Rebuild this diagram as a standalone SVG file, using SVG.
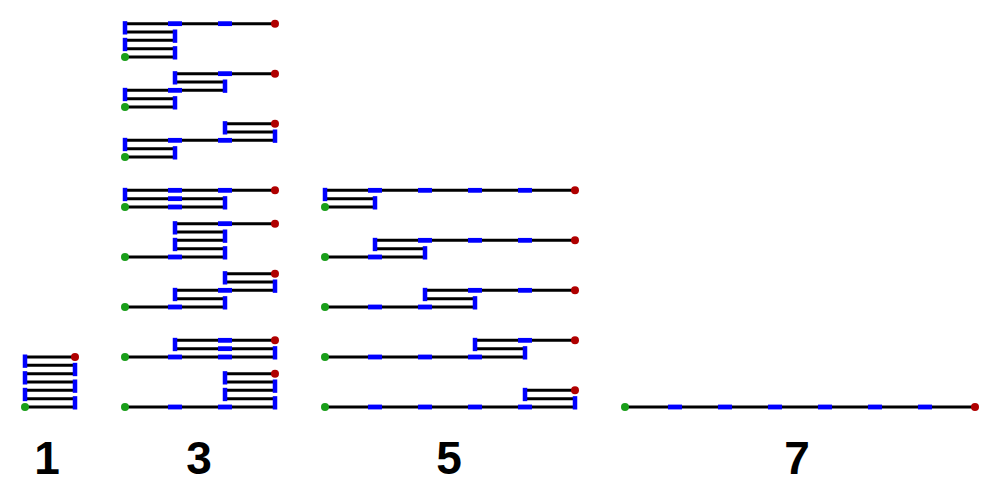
<svg xmlns="http://www.w3.org/2000/svg" xmlns:xlink="http://www.w3.org/1999/xlink" width="1000" height="486" viewBox="0 0 1000 486">
<style>
.ln{fill:none;stroke:#000;stroke-width:3;stroke-linejoin:miter}
.lbl{font-family:"Liberation Sans",Arial,sans-serif;font-weight:bold;font-size:46px;text-anchor:middle;fill:#000}
</style>
<defs>
<rect id="fold" x="-2.25" y="-2.5" width="4.5" height="13.33" fill="#0000ff"/>
<rect id="dash" x="-7" y="-2.4" width="14" height="4.8" fill="#0000ff"/>
<circle id="start" r="4" fill="#1a9e1a"/>
<circle id="end" r="4" fill="#b00000"/>
</defs>
<rect width="1000" height="486" fill="#fff"/>

<g id="fig1">
<path class="ln" d="M25 407 H75 V398.67 H25 V390.33 H75 V382 H25 V373.67 H75 V365.33 H25 V357 H75"/>
<use xlink:href="#fold" x="75" y="398.67"/><use xlink:href="#fold" x="25" y="390.33"/><use xlink:href="#fold" x="75" y="382"/><use xlink:href="#fold" x="25" y="373.67"/><use xlink:href="#fold" x="75" y="365.33"/><use xlink:href="#fold" x="25" y="357"/>
<use xlink:href="#start" x="25" y="407"/><use xlink:href="#end" x="75" y="357"/>
</g>

<g id="fig3a">
<path class="ln" d="M125 57 H175 V48.67 H125 V40.33 H175 V32 H125 V23.67 H275"/>
<use xlink:href="#fold" x="175" y="48.67"/><use xlink:href="#fold" x="125" y="40.33"/><use xlink:href="#fold" x="175" y="32"/><use xlink:href="#fold" x="125" y="23.67"/>
<use xlink:href="#dash" x="175" y="23.67"/><use xlink:href="#dash" x="225" y="23.67"/>
<use xlink:href="#start" x="125" y="57"/><use xlink:href="#end" x="275" y="23.67"/>
</g>

<g id="fig3b">
<path class="ln" d="M125 107 H175 V98.67 H125 V90.33 H225 V82 H175 V73.67 H275"/>
<use xlink:href="#fold" x="175" y="98.67"/><use xlink:href="#fold" x="125" y="90.33"/><use xlink:href="#fold" x="225" y="82"/><use xlink:href="#fold" x="175" y="73.67"/>
<use xlink:href="#dash" x="175" y="90.33"/><use xlink:href="#dash" x="225" y="73.67"/>
<use xlink:href="#start" x="125" y="107"/><use xlink:href="#end" x="275" y="73.67"/>
</g>

<g id="fig3c">
<path class="ln" d="M125 157 H175 V148.67 H125 V140.33 H275 V132 H225 V123.67 H275"/>
<use xlink:href="#fold" x="175" y="148.67"/><use xlink:href="#fold" x="125" y="140.33"/><use xlink:href="#fold" x="275" y="132"/><use xlink:href="#fold" x="225" y="123.67"/>
<use xlink:href="#dash" x="175" y="140.33"/><use xlink:href="#dash" x="225" y="140.33"/>
<use xlink:href="#start" x="125" y="157"/><use xlink:href="#end" x="275" y="123.67"/>
</g>

<g id="fig3d">
<path class="ln" d="M125 207 H225 V198.67 H125 V190.33 H275"/>
<use xlink:href="#fold" x="225" y="198.67"/><use xlink:href="#fold" x="125" y="190.33"/>
<use xlink:href="#dash" x="175" y="207"/><use xlink:href="#dash" x="175" y="198.67"/><use xlink:href="#dash" x="175" y="190.33"/><use xlink:href="#dash" x="225" y="190.33"/>
<use xlink:href="#start" x="125" y="207"/><use xlink:href="#end" x="275" y="190.33"/>
</g>

<g id="fig3e">
<path class="ln" d="M125 257 H225 V248.67 H175 V240.33 H225 V232 H175 V223.67 H275"/>
<use xlink:href="#fold" x="225" y="248.67"/><use xlink:href="#fold" x="175" y="240.33"/><use xlink:href="#fold" x="225" y="232"/><use xlink:href="#fold" x="175" y="223.67"/>
<use xlink:href="#dash" x="175" y="257"/><use xlink:href="#dash" x="225" y="223.67"/>
<use xlink:href="#start" x="125" y="257"/><use xlink:href="#end" x="275" y="223.67"/>
</g>

<g id="fig3f">
<path class="ln" d="M125 307 H225 V298.67 H175 V290.33 H275 V282 H225 V273.67 H275"/>
<use xlink:href="#fold" x="225" y="298.67"/><use xlink:href="#fold" x="175" y="290.33"/><use xlink:href="#fold" x="275" y="282"/><use xlink:href="#fold" x="225" y="273.67"/>
<use xlink:href="#dash" x="175" y="307"/><use xlink:href="#dash" x="225" y="290.33"/>
<use xlink:href="#start" x="125" y="307"/><use xlink:href="#end" x="275" y="273.67"/>
</g>

<g id="fig3g">
<path class="ln" d="M125 357 H275 V348.67 H175 V340.33 H275"/>
<use xlink:href="#fold" x="275" y="348.67"/><use xlink:href="#fold" x="175" y="340.33"/>
<use xlink:href="#dash" x="175" y="357"/><use xlink:href="#dash" x="225" y="357"/><use xlink:href="#dash" x="225" y="348.67"/><use xlink:href="#dash" x="225" y="340.33"/>
<use xlink:href="#start" x="125" y="357"/><use xlink:href="#end" x="275" y="340.33"/>
</g>

<g id="fig3h">
<path class="ln" d="M125 407 H275 V398.67 H225 V390.33 H275 V382 H225 V373.67 H275"/>
<use xlink:href="#fold" x="275" y="398.67"/><use xlink:href="#fold" x="225" y="390.33"/><use xlink:href="#fold" x="275" y="382"/><use xlink:href="#fold" x="225" y="373.67"/>
<use xlink:href="#dash" x="175" y="407"/><use xlink:href="#dash" x="225" y="407"/>
<use xlink:href="#start" x="125" y="407"/><use xlink:href="#end" x="275" y="373.67"/>
</g>

<g id="fig5a">
<path class="ln" d="M325 207 H375 V198.67 H325 V190.33 H575"/>
<use xlink:href="#fold" x="375" y="198.67"/><use xlink:href="#fold" x="325" y="190.33"/>
<use xlink:href="#dash" x="375" y="190.33"/><use xlink:href="#dash" x="425" y="190.33"/><use xlink:href="#dash" x="475" y="190.33"/><use xlink:href="#dash" x="525" y="190.33"/>
<use xlink:href="#start" x="325" y="207"/><use xlink:href="#end" x="575" y="190.33"/>
</g>

<g id="fig5b">
<path class="ln" d="M325 257 H425 V248.67 H375 V240.33 H575"/>
<use xlink:href="#fold" x="425" y="248.67"/><use xlink:href="#fold" x="375" y="240.33"/>
<use xlink:href="#dash" x="375" y="257"/><use xlink:href="#dash" x="425" y="240.33"/><use xlink:href="#dash" x="475" y="240.33"/><use xlink:href="#dash" x="525" y="240.33"/>
<use xlink:href="#start" x="325" y="257"/><use xlink:href="#end" x="575" y="240.33"/>
</g>

<g id="fig5c">
<path class="ln" d="M325 307 H475 V298.67 H425 V290.33 H575"/>
<use xlink:href="#fold" x="475" y="298.67"/><use xlink:href="#fold" x="425" y="290.33"/>
<use xlink:href="#dash" x="375" y="307"/><use xlink:href="#dash" x="425" y="307"/><use xlink:href="#dash" x="475" y="290.33"/><use xlink:href="#dash" x="525" y="290.33"/>
<use xlink:href="#start" x="325" y="307"/><use xlink:href="#end" x="575" y="290.33"/>
</g>

<g id="fig5d">
<path class="ln" d="M325 357 H525 V348.67 H475 V340.33 H575"/>
<use xlink:href="#fold" x="525" y="348.67"/><use xlink:href="#fold" x="475" y="340.33"/>
<use xlink:href="#dash" x="375" y="357"/><use xlink:href="#dash" x="425" y="357"/><use xlink:href="#dash" x="475" y="357"/><use xlink:href="#dash" x="525" y="340.33"/>
<use xlink:href="#start" x="325" y="357"/><use xlink:href="#end" x="575" y="340.33"/>
</g>

<g id="fig5e">
<path class="ln" d="M325 407 H575 V398.67 H525 V390.33 H575"/>
<use xlink:href="#fold" x="575" y="398.67"/><use xlink:href="#fold" x="525" y="390.33"/>
<use xlink:href="#dash" x="375" y="407"/><use xlink:href="#dash" x="425" y="407"/><use xlink:href="#dash" x="475" y="407"/><use xlink:href="#dash" x="525" y="407"/>
<use xlink:href="#start" x="325" y="407"/><use xlink:href="#end" x="575" y="390.33"/>
</g>

<g id="fig7">
<path class="ln" d="M625 407 H975"/>
<use xlink:href="#dash" x="675" y="407"/><use xlink:href="#dash" x="725" y="407"/><use xlink:href="#dash" x="775" y="407"/><use xlink:href="#dash" x="825" y="407"/><use xlink:href="#dash" x="875" y="407"/><use xlink:href="#dash" x="925" y="407"/>
<use xlink:href="#start" x="625" y="407"/><use xlink:href="#end" x="975" y="407"/>
</g>

<g id="labels">
<text class="lbl" x="47" y="474">1</text>
<text class="lbl" x="199" y="474">3</text>
<text class="lbl" x="449" y="474">5</text>
<text class="lbl" x="797" y="474">7</text>
</g>
</svg>
